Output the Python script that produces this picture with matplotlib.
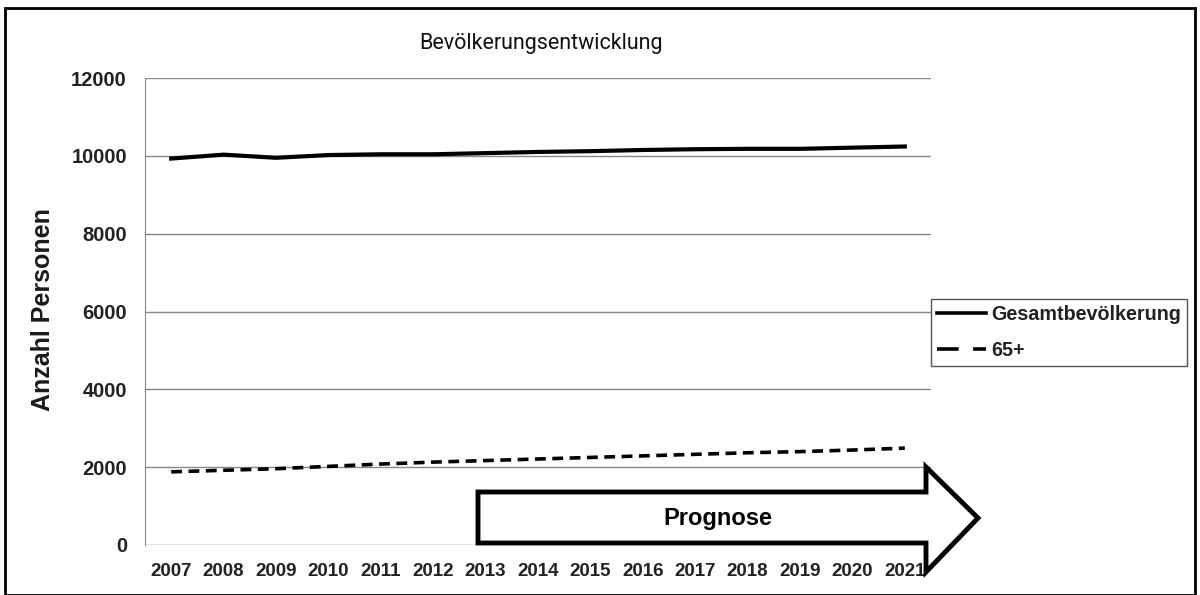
import matplotlib.pyplot as plt
from matplotlib.patches import Polygon, Rectangle
from matplotlib.lines import Line2D

years = [str(y) for y in range(2007, 2022)]
gesamt = [9930, 10030, 9950, 10020, 10040, 10040, 10070, 10100,
          10120, 10150, 10170, 10180, 10180, 10210, 10240]
senioren = [1880, 1920, 1960, 2020, 2080, 2130, 2170, 2210,
            2250, 2290, 2330, 2370, 2400, 2440, 2490]
yticks = [0, 2000, 4000, 6000, 8000, 10000, 12000]

W, H = 1200, 595
fig = plt.figure(figsize=(12, 5.95), dpi=100)
ax = fig.add_axes([145 / W, 1 - 545 / H, 786 / W, 467 / H])

dash = (0, (3, 1.8))
x = range(len(years))
ax.plot(x, gesamt, color="black", lw=3, label="Gesamtbevölkerung")
ax.plot(x, senioren, color="black", lw=2.6, ls=dash, label="65+")

ax.set_xlim(-0.5, len(years) - 0.5)
ax.set_ylim(0, 12000)
ax.set_yticks(yticks)
ax.set_yticklabels([str(v) for v in yticks], fontsize=14.5, fontweight="bold",
                   family="Liberation Sans", color="#222222")
ax.set_xticks(list(x))
ax.set_xticklabels(years, fontsize=13.5, fontweight="bold",
                   family="Liberation Sans", color="#222222")
ax.tick_params(length=0)
ax.tick_params(axis="x", pad=13)
ax.tick_params(axis="y", pad=13)
ax.grid(axis="y", color="#888888", lw=1)
for s in ["top", "right", "bottom"]:
    ax.spines[s].set_visible(False)
ax.spines["left"].set_color("#888888")

fig.text(43 / W, 1 - 310 / H, "Anzahl Personen", fontsize=18,
         fontweight="bold", family="Liberation Sans", rotation=90,
         ha="center", va="center", color="#1a1a1a")
fig.text(541 / W, 1 - 44 / H, "Bevölkerungsentwicklung", fontsize=15.5,
         ha="center", va="center", family="Roboto", color="#111111")

# legend
handles = [Line2D([], [], color="black", lw=2.6),
           Line2D([], [], color="black", lw=2.6, ls=(0, (6, 4)))]
leg = fig.legend(handles, ["Gesamtbevölkerung", "65+"],
                 loc="upper left", bbox_to_anchor=(931 / W, 1 - 299 / H),
                 fancybox=False, edgecolor="#555555", framealpha=1,
                 handlelength=2.5, handletextpad=0.25, borderpad=0.3,
                 labelspacing=0.85, borderaxespad=0,
                 prop={"family": "Liberation Sans", "weight": "bold", "size": 14.2})
for t in leg.get_texts():
    t.set_color("#222222")

# Prognose arrow (pixel coords -> figure fraction)
pts = [(478, 492), (926, 492), (926, 467), (978, 518),
       (926, 572), (926, 543), (478, 543)]
arrow = Polygon([(px / W, 1 - py / H) for px, py in pts], closed=True,
                transform=fig.transFigure, facecolor="white",
                edgecolor="black", lw=3.5, joinstyle="miter", zorder=5)
fig.patches.append(arrow)
fig.text(718 / W, 1 - 519 / H, "Prognose", fontsize=17, fontweight="bold",
         family="Liberation Sans", ha="center", va="center", zorder=6)

# outer border
fig.patches.append(Rectangle((5 / W, 0), 1190 / W, 1 - 8 / H,
                             transform=fig.transFigure, fill=False,
                             edgecolor="black", lw=2))

fig.savefig("out.png", dpi=100)
